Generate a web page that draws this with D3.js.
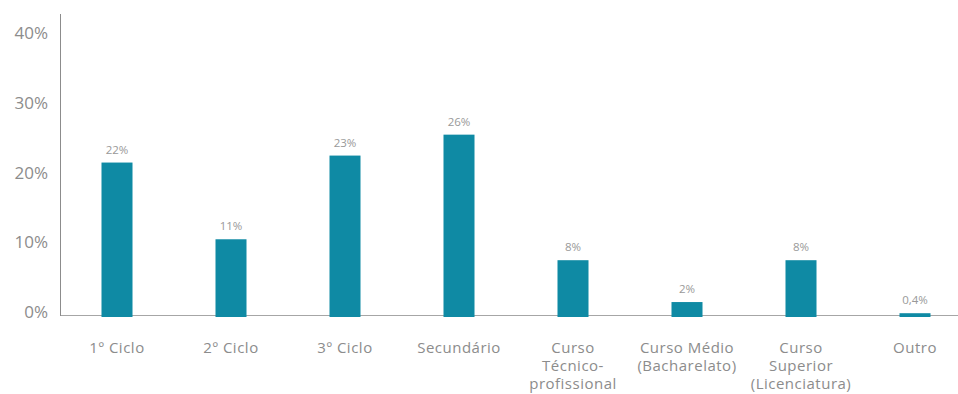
<!DOCTYPE html>
<html>
<head>
<meta charset="utf-8">
<script src="https://cdn.jsdelivr.net/npm/d3@7"></script>
<style>
  html, body { margin: 0; padding: 0; background: #fff; }
  svg { display: block; }
  text { font-family: "Open Sans", "DejaVu Sans", sans-serif; }
</style>
</head>
<body>
<svg id="chart" width="958" height="394"></svg>
<script>
// Education level distribution (share of respondents, %)
const categories = [
  ["1º Ciclo"],
  ["2º Ciclo"],
  ["3º Ciclo"],
  ["Secundário"],
  ["Curso", "Técnico-", "profissional"],
  ["Curso Médio", "(Bacharelato)"],
  ["Curso", "Superior", "(Licenciatura)"],
  ["Outro"]
];
const values = [22, 11, 23, 26, 8, 2, 8, 0.4];
const valueLabels = ["22%", "11%", "23%", "26%", "8%", "2%", "8%", "0,4%"];
const yTicks = [0, 10, 20, 30, 40];
const yTickLabels = ["0%", "10%", "20%", "30%", "40%"];

const svg = d3.select("#chart");
const W = 958;
const x0 = 60, baseY = 316;

const x = d3.scaleBand()
  .domain(d3.range(categories.length))
  .range([x0, 972])
  .paddingInner(0.728)
  .paddingOuter(0.364);

const y = d3.scaleLinear().domain([0, 40]).range([baseY, baseY - 279]);

// Axis lines (drawn first so bars sit on top)
svg.append("line")
  .attr("x1", x0).attr("x2", W)
  .attr("y1", baseY - 0.5).attr("y2", baseY - 0.5)
  .attr("stroke", "#a6a6a6").attr("stroke-width", 1.2);

svg.append("line")
  .attr("x1", x0 + 0.5).attr("x2", x0 + 0.5)
  .attr("y1", 14).attr("y2", baseY)
  .attr("stroke", "#8c8c8c").attr("stroke-width", 1);

// Bars
svg.append("g").selectAll("rect")
  .data(values)
  .join("rect")
  .attr("x", (d, i) => x(i))
  .attr("y", d => y(d))
  .attr("width", x.bandwidth())
  .attr("height", d => y(0) - y(d) + 1)
  .attr("fill", "#0f8aa4");

// Value labels
svg.append("g").selectAll("text")
  .data(values)
  .join("text")
  .attr("x", (d, i) => x(i) + x.bandwidth() / 2)
  .attr("y", d => y(d) - 9)
  .attr("text-anchor", "middle")
  .attr("font-size", 11.5)
  .attr("fill", "#999")
  .text((d, i) => valueLabels[i]);

// Y axis tick labels
const yAxis = d3.axisLeft(y)
  .tickValues(yTicks)
  .tickSize(0)
  .tickPadding(12)
  .tickFormat((d, i) => yTickLabels[i]);

const gy = svg.append("g").attr("transform", `translate(${x0},0)`).call(yAxis);
gy.select(".domain").remove();
gy.selectAll("text")
  .attr("font-size", 17)
  .attr("fill", "#8c8c8c")
  .attr("dy", "0.1em")
  .style("font-family", "'Open Sans', sans-serif");

// Category labels, one text element per line
const lines = categories.flatMap((c, i) => c.map((t, j) => ({ i, j, t })));
svg.append("g").selectAll("text")
  .data(lines)
  .join("text")
  .attr("x", d => x(d.i) + x.bandwidth() / 2)
  .attr("y", d => 353 + d.j * 18)
  .attr("text-anchor", "middle")
  .attr("font-size", 15)
  .attr("letter-spacing", 0.5)
  .attr("fill", "#8c8c8c")
  .text(d => d.t);
</script>
</body>
</html>
